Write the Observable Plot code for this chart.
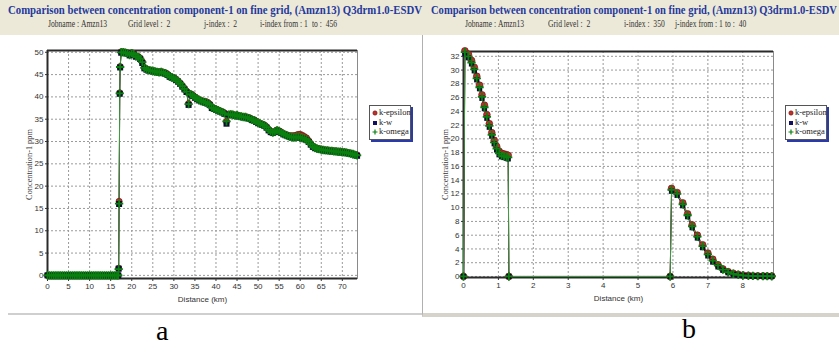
<!DOCTYPE html>
<html><head><meta charset="utf-8">
<script src="https://cdn.jsdelivr.net/npm/d3@7"></script>
<script src="https://cdn.jsdelivr.net/npm/@observablehq/plot@0.6"></script>
<style>
body{margin:0;background:#fff;}
#root{position:relative;width:839px;height:352px;overflow:hidden;background:#fff;font-family:"Liberation Serif",serif;}
.abs{position:absolute;}
.title{white-space:nowrap;font-weight:bold;font-size:12px;color:#26399c;transform-origin:0 50%;line-height:14px;}
.sub{white-space:nowrap;font-size:9.5px;color:#333;transform-origin:0 50%;line-height:11px;}
.lg{background:#fff;border:1px solid #555;box-shadow:2px 2px 0 #2a3aa8;font-size:8.5px;line-height:9.6px;padding:2px 1px 2px 2px;color:#222;white-space:nowrap;}
.lg svg{vertical-align:middle;margin-right:1px;}
.big{font-size:28px;color:#000;}
</style></head>
<body><div id="root"></div>
<script>
// ---------- text ----------
const titleText = "Comparison between concentration component-1 on fine grid, (Amzn13) Q3drm1.0-ESDV";
const subA = ["Jobname : Amzn13", "Grid level :  2", "j-index :  2", "i-index from : 1", "to :  456"];
const subB = ["Jobname : Amzn13", "Grid level :  2", "i-index :  350", "j-index from : 1", "to :  40"];
const seriesNames = ["k-epsilon", "k-w", "k-omega"];
const panelLabels = ["a", "b"];
const xLabel = "Distance (km)";
const yLabel = "Concentration-1 ppm";

// ---------- panel a data ----------
const ticksXA = [0,5,10,15,20,25,30,35,40,45,50,55,60,65,70];
const ticksYA = [0,5,10,15,20,25,30,35,40,45,50];
const distA = [0,0.5,1,1.5,2,2.5,3,3.5,4,4.5, 5,5.5,6,6.5,7,7.5,8,8.5,9,9.5, 10,10.5,11,11.5,12,12.5,13,13.5,14,14.5, 15,15.5,16,16.5,
 16.8,16.9,17,17.15,17.25,
 17.5,18,18.5,19,19.5,20,20.5,21,21.5,22,
 22.5,23,23.5,24,24.5,25,25.5,26,26.5,27,
 27.5,28,28.5,29,29.5,30,30.5,31,31.5,32,
 32.5,33,33.5,34,34.5,35,35.5,36,36.5,37,
 37.5,38,38.5,39,39.5,40,40.5,41,41.5,42,
 42.5,43,43.5,44,44.5,45,45.5,46,46.5,47,
 47.5,48,48.5,49,49.5,50,50.5,51,51.5,52,
 52.5,53,53.5,54,54.5,55,55.5,56,56.5,57,
 57.5,58,58.5,59,59.5,60,60.5,61,61.5,62,
 62.5,63,63.5,64,64.5,65,65.5,66,66.5,67,
 67.5,68,68.5,69,69.5,70,70.5,71,71.5,72,
 72.5,73,73.5];
const kEpsA = [0,0,0,0,0,0,0,0,0,0, 0,0,0,0,0,0,0,0,0,0, 0,0,0,0,0,0,0,0,0,0, 0,0,0,0,
 0,1.6,16.6,40.9,46.8,
 50.1,50.1,50.0,49.9,49.5,49.9,49.7,49.2,49.1,48.7,
 47.9,46.6,46.3,46.1,46.0,45.9,45.8,45.7,45.6,45.7,
 45.5,45.4,45.1,44.7,44.5,44.3,44.0,43.6,43.1,42.5,
 41.9,41.3,38.5,40.7,40.4,40.0,39.7,39.4,39.2,39.0,
 39.0,38.8,38.4,37.7,37.5,37.3,37.1,36.9,36.7,36.4,
 34.5,36.1,36.2,36.1,35.9,36.0,35.8,35.7,35.6,35.6,
 35.4,35.3,35.0,34.9,34.6,34.3,34.1,33.9,33.7,33.3,
 32.7,32.3,32.1,32.3,32.6,32.4,32.1,31.8,31.6,31.4,
 31.3,31.3,31.3,31.4,31.6,31.6,31.4,31.1,30.8,30.2,
 29.5,29.0,28.7,28.5,28.4,28.3,28.2,28.1,28.1,28.0,
 28.0,27.9,27.9,27.8,27.8,27.7,27.7,27.6,27.5,27.4,
 27.3,27.1,27.0];
const kWA = [0,0,0,0,0,0,0,0,0,0, 0,0,0,0,0,0,0,0,0,0, 0,0,0,0,0,0,0,0,0,0, 0,0,0,0,
 0,1.5,16.0,40.7,46.6,
 49.9,49.9,49.8,49.7,49.3,49.7,49.5,49.0,48.9,48.5,
 47.6,46.4,46.1,45.9,45.8,45.7,45.6,45.5,45.4,45.5,
 45.3,45.2,44.9,44.5,44.3,44.1,43.8,43.4,42.9,42.3,
 41.7,41.1,38.2,40.5,40.2,39.8,39.5,39.2,39.0,38.8,
 38.7,38.5,38.2,37.5,37.3,37.1,36.9,36.7,36.5,36.2,
 34.0,35.9,36.0,35.9,35.7,35.8,35.6,35.5,35.4,35.4,
 35.2,35.1,34.8,34.7,34.4,34.1,33.9,33.7,33.5,33.1,
 32.5,32.1,31.9,32.1,32.4,32.2,31.9,31.6,31.4,31.2,
 31.0,30.9,30.8,30.9,31.0,30.8,30.7,30.5,30.3,29.9,
 29.3,28.8,28.5,28.3,28.2,28.1,28.0,27.9,27.9,27.8,
 27.8,27.7,27.7,27.6,27.6,27.5,27.5,27.4,27.3,27.2,
 27.1,26.9,26.8];
const kOmegaA = [0,0,0,0,0,0,0,0,0,0, 0,0,0,0,0,0,0,0,0,0, 0,0,0,0,0,0,0,0,0,0, 0,0,0,0,
 0,1.4,16.1,40.8,46.7,
 50.0,50.0,49.9,49.8,49.4,49.8,49.6,49.1,49.0,48.6,
 47.8,46.5,46.2,46.0,45.9,45.8,45.7,45.6,45.5,45.6,
 45.4,45.3,45.0,44.6,44.4,44.2,43.9,43.5,43.0,42.4,
 41.8,41.2,38.4,40.6,40.3,39.9,39.6,39.3,39.1,38.9,
 38.8,38.6,38.3,37.6,37.4,37.2,37.0,36.8,36.6,36.3,
 34.5,36.0,36.1,36.0,35.8,35.9,35.7,35.6,35.5,35.5,
 35.3,35.2,34.9,34.8,34.5,34.2,34.0,33.8,33.6,33.2,
 32.6,32.2,32.0,32.2,32.5,32.3,32.0,31.7,31.5,31.3,
 31.1,31.0,30.9,31.0,31.1,30.9,30.8,30.6,30.4,30.0,
 29.4,28.9,28.6,28.4,28.3,28.2,28.1,28.0,28.0,27.9,
 27.9,27.8,27.8,27.7,27.7,27.6,27.6,27.5,27.4,27.3,
 27.2,27.0,26.9];

// ---------- panel b data ----------
const ticksXB = [0,1,2,3,4,5,6,7,8];
const ticksYB = [0,2,4,6,8,10,12,14,16,18,20,22,24,26,28,30,32];
const distB = [0,0.04,0.14,0.23,0.31,0.38,0.46,0.53,0.60,0.67,0.74,0.81,0.88,0.95,1.02,1.09,1.16,1.23,1.28,1.30,
 5.92,5.96,6.12,6.28,6.42,6.55,6.70,6.85,7.00,7.14,7.29,7.43,7.58,7.73,7.87,8.01,8.16,8.29,8.43,8.58,8.70,8.83];
const kEpsB = [0,32.8,32.3,31.4,30.4,29.1,27.8,26.4,24.9,23.5,22.2,20.9,19.8,18.9,18.2,17.9,17.8,17.7,17.6,0,
 0,12.8,12.2,10.7,9.1,7.5,6.0,4.6,3.4,2.5,1.7,1.1,0.7,0.45,0.3,0.2,0.14,0.1,0.08,0.07,0.06,0.05];
const kWB = [0,32.4,31.8,30.9,29.9,28.6,27.3,25.9,24.4,23.0,21.7,20.4,19.3,18.4,17.7,17.4,17.3,17.2,17.1,0,
 0,12.4,11.8,10.3,8.7,7.1,5.6,4.2,3.0,2.1,1.4,0.9,0.55,0.33,0.2,0.12,0.08,0.06,0.05,0.04,0.03,0.02];
const kOmegaB = [0,32.6,32.0,31.1,30.1,28.8,27.5,26.1,24.6,23.2,21.9,20.6,19.5,18.6,17.9,17.6,17.5,17.4,17.3,0,
 0,12.6,12.0,10.5,8.9,7.3,5.8,4.4,3.2,2.3,1.6,1.0,0.63,0.39,0.25,0.15,0.1,0.08,0.06,0.05,0.04,0.03];

// ---------- styling ----------
const colEps = "#c0302a", colW = "#0c0c30", colOm = "#0a800f", colLine = "#3f9f3f";
const root = document.getElementById("root");
function el(cls, css, html){const d=document.createElement("div");d.className="abs "+cls;Object.assign(d.style,css);if(html!=null)d.innerHTML=html;root.appendChild(d);return d;}

// header
el("", {left:"0px",top:"0px",width:"839px",height:"35px",background:"#ECE9D8"});

function makePanel(o){
  const rows = o.dist.map((d,i)=>({d, eps:o.eps[i], kw:o.kw[i], kom:o.kom[i]}));
  const p = Plot.plot({
    width:o.width, height:o.height,
    marginLeft:o.ml, marginRight:o.mr, marginTop:o.mt, marginBottom:o.mb,
    style:{background:"transparent", fontFamily:"'Liberation Sans', Arial, sans-serif", fontSize:"8px", color:"#333"},
    x:{domain:o.xDomain, label:null},
    y:{domain:o.yDomain, label:null},
    marks:[
      Plot.gridX(o.ticksX, {stroke:"#9a9a9a", strokeOpacity:1, strokeDasharray:"2,2"}),
      Plot.gridY(o.ticksY, {stroke:"#9a9a9a", strokeOpacity:1, strokeDasharray:"2,2"}),
      Plot.frame({stroke:"#8a8a8a"}),
      Plot.ruleY([o.yDomain[1]], {stroke:"#2a2a2a", strokeWidth:2}),
      Plot.ruleY([o.yDomain[0]], {stroke:"#2a2a2a", strokeWidth:2}),
      Plot.ruleX([o.xDomain[0]], {stroke:"#2a2a2a", strokeWidth:2}),
      Plot.axisX(o.ticksX, {tickSize:3, tickPadding:2, label:xLabel, labelArrow:"none", labelAnchor:"center", labelOffset:23}),
      Plot.axisY(o.ticksY, {tickSize:2, tickPadding:2, label:yLabel, labelArrow:"none", labelAnchor:"center", labelOffset:o.ylo}),
      Plot.line(rows, {x:"d", y:"eps", stroke:colEps, strokeWidth:1}),
      Plot.line(rows, {x:"d", y:"kw", stroke:colW, strokeWidth:1}),
      Plot.line(rows, {x:"d", y:"kom", stroke:colLine, strokeWidth:1}),
      Plot.dot(rows, {x:"d", y:"eps", r:o.re, fill:colEps, stroke:"#5a1010", strokeWidth:0.6}),
      Plot.dot(rows, {x:"d", y:"kw", symbol:"square", r:o.rw, fill:colW}),
      Plot.dot(rows, {x:"d", y:"kom", symbol:"plus", r:2.8, stroke:colOm, strokeWidth:1.8})
    ]
  });
  p.querySelectorAll('[aria-label="y-axis label"] text').forEach(t=>{t.setAttribute("font-family","'Liberation Serif', serif");t.style.fontFamily="'Liberation Serif', serif";t.setAttribute("font-size","8.3");});
  p.querySelectorAll('[aria-label$="axis label"] text, [aria-label$="axis label"] tspan').forEach(t=>{
    t.childNodes.forEach(n=>{if(n.nodeType===3) n.textContent=n.textContent.replace(/\s*[→↑←↓]\s*/g,"");});
  });
  const holder = el("", {left:o.left+"px", top:o.top+"px"});
  holder.appendChild(p);
  return holder;
}

// panel a
makePanel({dist:distA, eps:kEpsA, kw:kWA, kom:kOmegaA, ticksX:ticksXA, ticksY:ticksYA, re:3.1, rw:3.4,
  xDomain:[0,73.6], yDomain:[-0.7,50.4], left:0, top:36, width:420, height:284, ml:47, mr:63, mt:14, mb:42, ylo:21});
// left panel bottom line
el("", {left:"8px",top:"313px",width:"414px",height:"2px",background:"#cfcfcf"});

// right panel box
el("", {left:"422px",top:"35px",width:"417px",height:"278px",borderLeft:"1px solid #b0b0b0",borderBottom:"4px solid #d6d3cb",background:"#fff"});
makePanel({dist:distB, eps:kEpsB, kw:kWB, kom:kOmegaB, ticksX:ticksXB, ticksY:ticksYB, re:3.4, rw:3.0,
  xDomain:[0,8.88], yDomain:[-0.15,32.7], left:420, top:36, width:419, height:284, ml:43, mr:66, mt:15, mb:43, ylo:21});

// titles
function fit(d, w){const nat=d.getBoundingClientRect().width; d.style.transform="scaleX("+(w/nat)+")";}
const t1 = el("title", {left:"8px", top:"3px"}, titleText); fit(t1, 414);
const t2 = el("title", {left:"431px", top:"3px"}, titleText); fit(t2, 406);
const subAx = [48,128,204,260,312], subBx = [465,548,624,675,725];
subA.forEach((s,i)=>{const d=el("sub",{left:subAx[i]+"px",top:"19px"}, s.replace(/ /g,"&nbsp;")); d.style.transform="scaleX(0.8)";});
subB.forEach((s,i)=>{const d=el("sub",{left:subBx[i]+"px",top:"19px"}, s.replace(/ /g,"&nbsp;")); d.style.transform="scaleX(0.8)";});

// legends
function legendHTML(){
  const sym = [
    `<svg width="6" height="6"><circle cx="3" cy="3" r="2.2" fill="${colEps}" stroke="#5a1010" stroke-width="0.5"/></svg>`,
    `<svg width="6" height="6"><rect x="1" y="1" width="4" height="4" fill="#101060"/></svg>`,
    `<svg width="6" height="6"><path d="M3,0.5V5.5M0.5,3H5.5" stroke="${colOm}" stroke-width="1.2"/></svg>`
  ];
  return seriesNames.map((n,i)=>`<div>${sym[i]}${n}</div>`).join("");
}
el("lg", {left:"369px", top:"105px", width:"37px"}, legendHTML());
el("lg", {left:"785px", top:"105px", width:"37px"}, legendHTML());

// panel letters
el("big", {left:"156px", top:"315px"}, panelLabels[0]);
el("big", {left:"682px", top:"313px"}, panelLabels[1]);
</script>
</body></html>
